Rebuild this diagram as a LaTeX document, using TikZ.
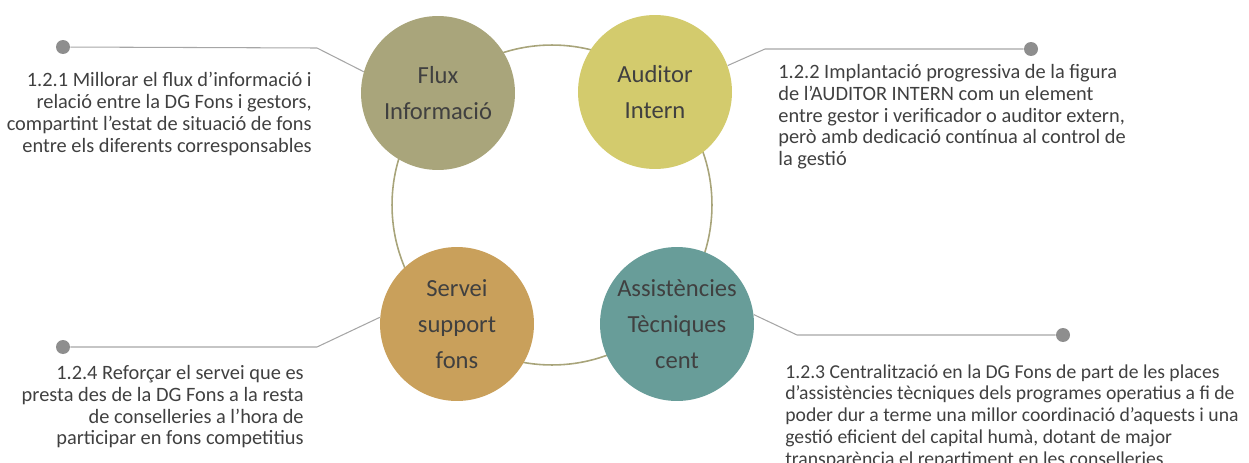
\documentclass[tikz,border=0pt]{standalone}
\usepackage{fontspec}
\setmainfont{Carlito}
\definecolor{fluxc}{HTML}{A9A57B}
\definecolor{auditc}{HTML}{D3CB6D}
\definecolor{servc}{HTML}{C9A05B}
\definecolor{assistc}{HTML}{689D99}
\definecolor{ringc}{HTML}{A8A47A}
\definecolor{linec}{HTML}{A6A6A6}
\definecolor{dotc}{HTML}{8E8E8E}
\definecolor{txtc}{HTML}{404040}
\begin{document}
\begin{tikzpicture}[x=0.02cm,y=-0.02cm,
    bubble/.style={circle,minimum size=3.08cm,inner sep=0pt,align=center,text=txtc,
        font=\fontsize{14}{20.3}\selectfont},
    pin/.style={circle,fill=dotc,minimum size=0.28cm,inner sep=0pt},
    lead/.style={linec,line width=0.6pt},
    note/.style={inner sep=0pt,text=txtc,font=\fontsize{11.6}{12.4}\selectfont}]
    \useasboundingbox (0,0) rectangle (1249,463);
    \draw[ringc,line width=0.9pt] (552,205) circle[radius=3.2cm];
    % the four circles
    \node[bubble,fill=fluxc] (flux) at (438,93) {Flux\\Informació};
    \node[bubble,fill=auditc] (audit) at (655,92) {Auditor\\Intern};
    \node[bubble,fill=servc] (serv) at (457,324) {Servei\\support\\fons};
    \node[bubble,fill=assistc] (assist) at (677,324) {Assistències\\Tècniques\\cent};
    % end dots and bends
    \node[pin] (p1) at (63,47) {};
    \node[pin] (p2) at (1031,49) {};
    \node[pin] (p3) at (1063,335) {};
    \node[pin] (p4) at (63,347) {};
    \coordinate (b1) at (317,48);
    \coordinate (b2) at (765,49);
    \coordinate (b3) at (797,335);
    \coordinate (b4) at (317,347);
    \draw[lead] (p1) -- (b1) -- (flux.164);
    \draw[lead] (p2) -- (b2) -- (audit.20);
    \draw[lead] (p3) -- (b3) -- (assist.7);
    \draw[lead] (p4) -- (b4) -- (serv.175);
    % texts
    \node[note,align=right,anchor=north east] (t1) at (312,72)
        {1.2.1 Millorar el flux d’informació i\\relació entre la DG Fons i gestors,\\compartint l’estat de situació de fons\\entre els diferents corresponsables};
    \node[note,align=left,anchor=north west] (t2) at (778,64)
        {1.2.2 Implantació progressiva de la figura\\de l’AUDITOR INTERN com un element\\entre gestor i verificador o auditor extern,\\però amb dedicació contínua al control de\\la gestió};
    \node[note,align=left,anchor=north west,font=\fontsize{11.2}{12.4}\selectfont] (t3) at (785,364)
        {1.2.3 Centralització en la DG Fons de part de les places\\d’assistències tècniques dels programes operatius a fi de\\poder dur a terme una millor coordinació d’aquests i una\\gestió eficient del capital humà, dotant de major\\transparència el repartiment en les conselleries};
    \node[note,align=right,anchor=north east] (t4) at (304,365)
        {1.2.4 Reforçar el servei que es\\presta des de la DG Fons a la resta\\de conselleries a l’hora de\\participar en fons competitius};
\end{tikzpicture}
\end{document}
